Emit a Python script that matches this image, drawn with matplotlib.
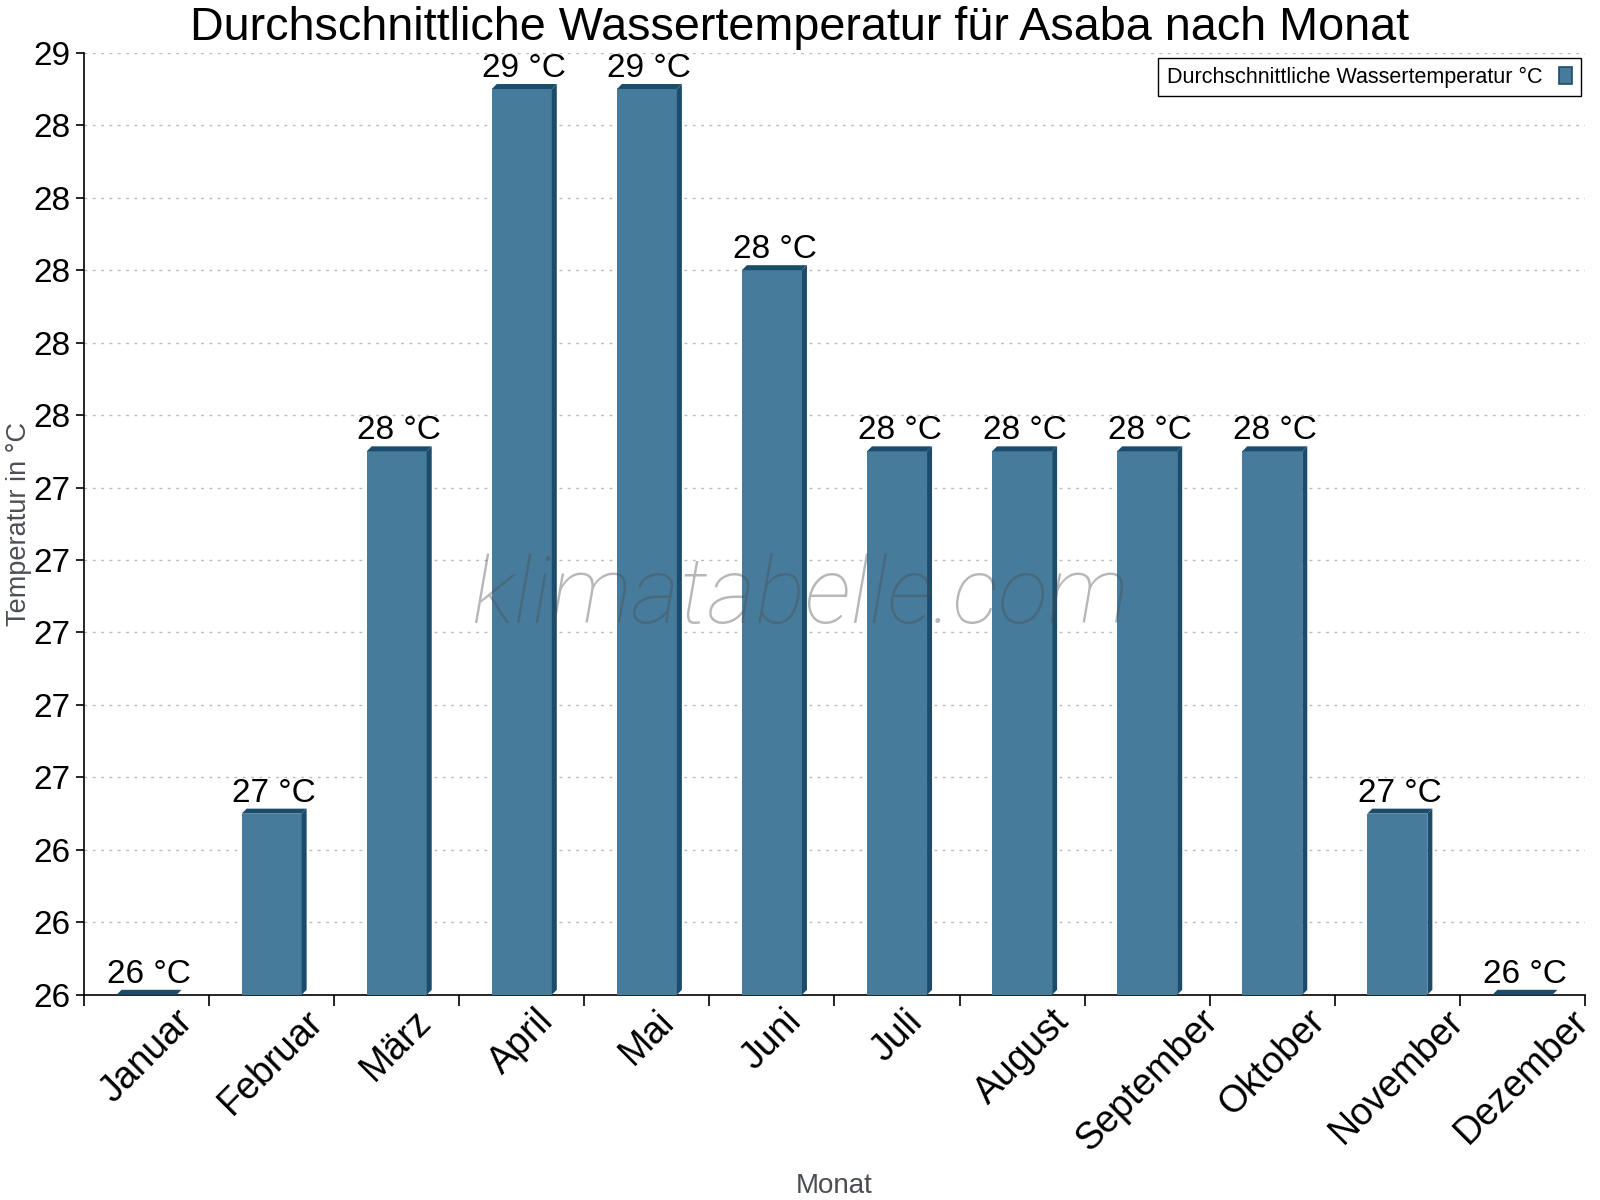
import matplotlib
matplotlib.use("Agg")
import matplotlib.pyplot as plt
from matplotlib.patches import Polygon, Patch
from matplotlib.ticker import FixedLocator, FuncFormatter
import numpy as np

months = ["Januar", "Februar", "März", "April", "Mai", "Juni", "Juli",
          "August", "September", "Oktober", "November", "Dezember"]
water_temp = [26.0, 26.5, 27.5, 28.5, 28.5, 28.0, 27.5, 27.5, 27.5, 27.5, 26.5, 26.0]
y_min, y_max, y_step = 26.0, 28.6, 0.2

title = "Durchschnittliche Wassertemperatur für Asaba nach Monat"
series_name = "Durchschnittliche Wassertemperatur °C"
front_color = "#467b9c"
dark_color = "#1b4c6c"

plt.rcParams['font.family'] = ['Liberation Sans', 'DejaVu Sans']

fig = plt.figure(figsize=(16, 12), dpi=100)
ax = fig.add_axes([0.0525, 0.171, 0.9381, 0.785])

n = len(months)
x = np.arange(n)
ax.set_xlim(-0.5, n - 0.5)
ax.set_ylim(y_min, y_max)

width = 0.48
ax_w_px = 0.9381 * 1600
ax_h_px = 0.785 * 1200
dx = 5 * (n / ax_w_px)
dy = 5 * ((y_max - y_min) / ax_h_px)

for xi, v in zip(x, water_temp):
    x0, x1 = xi - width / 2, xi + width / 2
    ax.bar(xi, v - y_min, width, bottom=y_min, color=front_color, zorder=3, linewidth=0)
    side = Polygon([(x1, y_min), (x1 + dx, y_min + dy), (x1 + dx, v + dy), (x1, v)],
                   closed=True, facecolor=dark_color, edgecolor='none', zorder=3, clip_on=True)
    top = Polygon([(x0, v), (x1, v), (x1 + dx, v + dy), (x0 + dx, v + dy)],
                  closed=True, facecolor=dark_color, edgecolor='none', zorder=3, clip_on=False)
    ax.add_patch(side)
    ax.add_patch(top)
    ax.annotate(f"{int(v + 0.5)} °C", (xi + dx / 2, v + dy), xytext=(0, 0),
                textcoords='offset points', ha='center', va='bottom', fontsize=24, zorder=5)

yticks = np.arange(y_min, y_max + 1e-9, y_step)
ax.yaxis.set_major_locator(FixedLocator(yticks))
ax.yaxis.set_major_formatter(FuncFormatter(lambda v, p: f"{v:.0f}"))
ax.tick_params(axis='y', labelsize=24, length=6, pad=4, direction='out', width=1.2)
ax.grid(axis='y', linestyle=(0, (2, 4)), color='#bbbbbb', linewidth=1, zorder=0)

ax.set_xticks(x)
ax.set_xticklabels(months, rotation=45, ha='center', fontsize=27)
ax.tick_params(axis='x', which='major', length=0, pad=6)
ax.set_xticks(np.arange(-0.5, n, 1.0), minor=True)
ax.tick_params(axis='x', which='minor', length=8, width=1.2, direction='out')

for s in ['top', 'right']:
    ax.spines[s].set_visible(False)
for s in ['left', 'bottom']:
    ax.spines[s].set_linewidth(1.2)

ax.set_xlabel("Monat", fontsize=20, color='#4a4f55')
ax.xaxis.set_label_coords(0.5, -0.189)
ax.set_ylabel("Temperatur in °C", fontsize=19.5, color='#4a4f55')
ax.yaxis.set_label_coords(-0.0345, 0.5)
fig.text(0.5, 0.967, title, fontsize=33.7, ha='center', va='baseline')

leg = ax.legend(handles=[Patch(facecolor=front_color, edgecolor=dark_color, linewidth=1.2)],
                labels=[series_name], loc='upper right', markerfirst=False,
                fontsize=15.5, frameon=True, fancybox=False, edgecolor='black',
                framealpha=1, handlelength=0.6, handleheight=0.84, handletextpad=0.8,
                borderaxespad=0.0, bbox_to_anchor=(0.9973, 0.9947))
leg.get_frame().set_linewidth(1.0)

fig.text(0.5, 0.502, "klimatabelle.com", family=['Roboto', 'DejaVu Sans'],
         fontweight='light', style='italic', fontsize=67, color='#4d4d4d',
         alpha=0.4, ha='center', va='center', zorder=10)

fig.savefig("out.png", dpi=100)
